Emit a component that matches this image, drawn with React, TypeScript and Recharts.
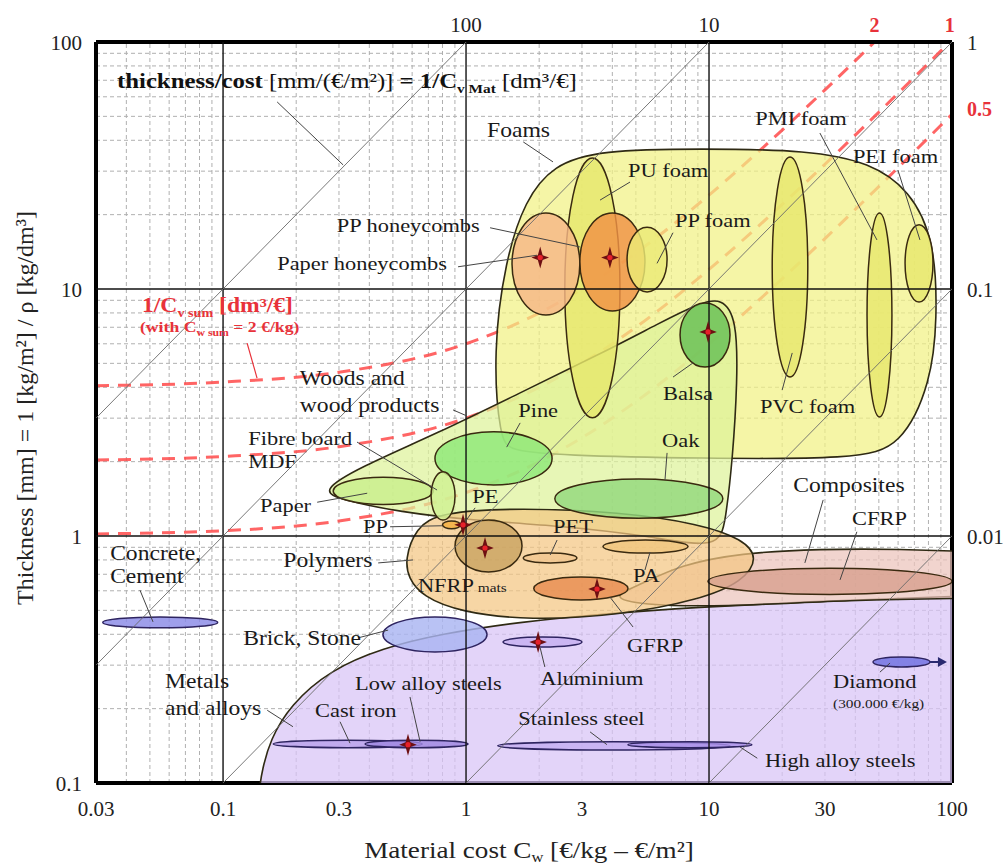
import React from "react"
import { ComposedChart, XAxis, YAxis, Scatter, Line, ReferenceLine } from "recharts"

const SERIF = '"Liberation Serif", "Times New Roman", serif'
const STRETCH = 1.18

// axes
const xTicks = [0.03, 0.1, 0.3, 1, 3, 10, 30, 100]
const yTicks = [0.1, 1, 10, 100]
// thickness/cost scale where the diagonals leave the frame
const topTicks = [1, 10, 48, 98]
const topLabels = ["100", "10", "2", "1"]
const rightTicks = [100, 54, 10, 1]
const rightLabels = ["1", "0.5", "0.1", "0.01"]

// grid
const xMinor = [0.04, 0.05, 0.06, 0.07, 0.08, 0.09, 0.2, 0.3, 0.4, 0.5, 0.6, 0.7, 0.8, 0.9, 2, 3, 4, 5, 6, 7, 8, 9, 20, 30, 40, 50, 60, 70, 80, 90]
const xMajor = [0.1, 1, 10]
const yMinor = [0.2, 0.3, 0.4, 0.5, 0.6, 0.7, 0.8, 0.9, 2, 3, 4, 5, 6, 7, 8, 9, 20, 30, 40, 50, 60, 70, 80, 90]
const yMajor = [1, 10]

// lines of constant thickness/cost
const diagonalStart = [[0.03, 3], [0.03, 0.3], [0.1, 0.1], [1, 0.1], [10, 0.1]]
const diagonalEnd = [[1, 100], [10, 100], [100, 100], [100, 10], [100, 1]]

// 1/Cv sum curves (Cw sum = 2 €/kg)
const sumCurveX = [0.03, 0.1, 0.3, 1, 2, 3, 5, 10, 20, 30, 48, 100]
const sumCurve2 = [4.06, 4.2, 4.6, 6, 8, 10, 14, 24, 44, 64, 100, 204]
const sumCurve1 = [2.03, 2.1, 2.3, 3, 4, 5, 7, 12, 22, 32, 50, 102]
const sumCurve05 = [1.02, 1.05, 1.15, 1.5, 2, 2.5, 3.5, 6, 11, 16, 25, 51]

// material family envelopes (outline points)
const metalsOutline = [[0.14, 0.06], [0.14, 0.08], [0.141, 0.095], [0.145, 0.113], [0.156, 0.149], [0.189, 0.207], [0.276, 0.287], [0.455, 0.352], [0.782, 0.401], [1.67, 0.449], [3.56, 0.483], [9.18, 0.516], [23.7, 0.54], [108, 0.572], [200, 0.58], [200, 0.06], [20, 0.06], [1, 0.06]]
const compositesOutline = [[3.91, 0.566], [5.2, 0.634], [7.6, 0.763], [13.4, 0.853], [28.6, 0.886], [61, 0.886], [130, 0.861], [200, 0.86], [200, 0.56], [130, 0.561], [38, 0.551], [11.1, 0.516], [5.2, 0.526]]
const foamsOutline = [[1.38, 2.45], [1.29, 5.51], [1.45, 13.1], [1.75, 22.9], [2.28, 31.8], [3.56, 36.5], [9.18, 37], [26, 36.5], [46, 32.5], [67, 25.2], [85, 15.8], [87, 7.5], [82, 4.2], [62, 2.3], [40, 2.05], [9.2, 2.06], [2.44, 2.12], [1.52, 2.22]]
const woodsOutline = [[0.25, 1.52], [0.366, 1.9], [0.76, 2.6], [1.67, 3.8], [3.56, 5.45], [6.29, 7.3], [9.18, 8.8], [11.3, 9.2], [13, 7.6], [13.1, 4.28], [12.5, 2.03], [11.7, 1.16], [11, 0.88], [5.72, 1.0], [2.44, 1.1], [1.04, 1.16], [0.535, 1.25], [0.31, 1.4]]
const polymersOutline = [[0.56, 0.8], [0.62, 1.08], [0.782, 1.25], [1.67, 1.3], [4.3, 1.25], [9.18, 1.12], [13.8, 0.97], [16, 0.815], [13.8, 0.655], [9.18, 0.552], [4.3, 0.478], [1.83, 0.455], [0.945, 0.492], [0.66, 0.57], [0.58, 0.676]]

const envelopes = [
  { name: "Metals", points: metalsOutline },
  { name: "Composites", points: compositesOutline },
  { name: "Foams", points: foamsOutline },
  { name: "Woods", points: woodsOutline },
  { name: "Polymers", points: polymersOutline },
]

// individual materials: cost range x, thickness range y
const materials = [
  { name: "Concrete", x: [0.032, 0.095], y: [0.425, 0.47] },
  { name: "Brick", x: [0.455, 1.22], y: [0.339, 0.47] },
  { name: "Cast iron", x: [0.161, 0.66], y: [0.139, 0.149] },
  { name: "Low alloy steels", x: [0.384, 1.02], y: [0.139, 0.149] },
  { name: "Stainless steel", x: [1.35, 12.2], y: [0.136, 0.147] },
  { name: "High alloy steels", x: [4.64, 15], y: [0.139, 0.147] },
  { name: "Aluminium", x: [1.42, 3.0], y: [0.355, 0.39] },
  { name: "Diamond", x: [47.3, 81.2], y: [0.295, 0.324] },
  { name: "CFRP", x: [9.9, 100], y: [0.58, 0.74] },
  { name: "GFRP", x: [1.9, 4.64], y: [0.551, 0.683] },
  { name: "NFRP mats", x: [0.901, 1.7], y: [0.715, 1.16] },
  { name: "PET", x: [1.72, 2.86], y: [0.778, 0.853] },
  { name: "PA", x: [3.66, 8.2], y: [0.853, 0.963] },
  { name: "PP", x: [0.8, 0.95], y: [1.07, 1.15] },
  { name: "Oak", x: [2.32, 11.4], y: [1.18, 1.7] },
  { name: "Paper", x: [0.284, 0.732], y: [1.34, 1.73] },
  { name: "Pine", x: [0.745, 2.26], y: [1.61, 2.64] },
  { name: "Fibre board", x: [0.718, 0.901], y: [1.16, 1.82] },
  { name: "PU foam", x: [2.55, 4.3], y: [3.01, 33.9] },
  { name: "PVC foam", x: [18.2, 25.5], y: [4.4, 34.2] },
  { name: "PMI foam", x: [44.7, 56.6], y: [3.03, 20.3] },
  { name: "PEI foam", x: [64.1, 83.5], y: [8.86, 18.2] },
  { name: "Paper honeycombs", x: [1.546, 2.94], y: [7.85, 20.3] },
  { name: "PP honeycombs", x: [2.94, 5.45], y: [8.15, 20.3] },
  { name: "PP foam", x: [4.6, 6.72], y: [9.73, 17.8] },
  { name: "Balsa", x: [7.6, 12.2], y: [4.83, 8.78] },
]

// reference materials (stars)
const starX = [2.02, 3.91, 9.91, 0.972, 1.197, 3.46, 1.98, 0.577]
const starY = [13.4, 13.4, 6.7, 1.11, 0.894, 0.61, 0.372, 0.143]

const labels = [
  { text: "thickness/cost", x: 0.0366, y: 65.1, kind: "formula" },
  { text: "1/Cv sum", x: 0.0464, y: 8.07, kind: "sumTitle" },
  { text: "(with Cw sum = 2 €/kg)", x: 0.0455, y: 6.7, kind: "sumNote" },
  { text: "Foams", x: 1.22, y: 41.2, kind: "group" },
  { text: "PU foam", x: 4.64, y: 28.4, kind: "item" },
  { text: "PP foam", x: 7.24, y: 17.8, kind: "item" },
  { text: "PP honeycombs", x: 0.294, y: 17.0, kind: "item" },
  { text: "Paper honeycombs", x: 0.167, y: 11.9, kind: "item" },
  { text: "PMI foam", x: 15.5, y: 46.1, kind: "item" },
  { text: "PEI foam", x: 39.1, y: 32.4, kind: "item" },
  { text: "PVC foam", x: 16.2, y: 3.15, kind: "item" },
  { text: "Balsa", x: 6.47, y: 3.55, kind: "item" },
  { text: "Oak", x: 6.41, y: 2.29, kind: "item" },
  { text: "Pine", x: 1.64, y: 3.03, kind: "item" },
  { text: "Woods and", x: 0.207, y: 4.09, kind: "group" },
  { text: "wood products", x: 0.207, y: 3.18, kind: "group" },
  { text: "Fibre board", x: 0.127, y: 2.34, kind: "item" },
  { text: "MDF", x: 0.127, y: 1.885, kind: "item" },
  { text: "Paper", x: 0.142, y: 1.25, kind: "item" },
  { text: "PP", x: 0.377, y: 1.03, kind: "item" },
  { text: "PE", x: 1.06, y: 1.36, kind: "item" },
  { text: "PET", x: 2.28, y: 1.03, kind: "item" },
  { text: "PA", x: 4.87, y: 0.651, kind: "item" },
  { text: "Polymers", x: 0.177, y: 0.749, kind: "group" },
  { text: "NFRP", x: 0.634, y: 0.593, kind: "nfrp" },
  { text: "Composites", x: 22.2, y: 1.51, kind: "group" },
  { text: "CFRP", x: 38.8, y: 1.11, kind: "item" },
  { text: "GFRP", x: 4.6, y: 0.339, kind: "item" },
  { text: "Aluminium", x: 2.02, y: 0.249, kind: "item" },
  { text: "Concrete,", x: 0.0343, y: 0.8, kind: "group" },
  { text: "Cement", x: 0.0343, y: 0.645, kind: "group" },
  { text: "Brick, Stone", x: 0.121, y: 0.362, kind: "group" },
  { text: "Metals", x: 0.0577, y: 0.243, kind: "group" },
  { text: "and alloys", x: 0.0577, y: 0.1885, kind: "group" },
  { text: "Low alloy steels", x: 0.349, y: 0.238, kind: "item" },
  { text: "Cast iron", x: 0.239, y: 0.185, kind: "item" },
  { text: "Stainless steel", x: 1.64, y: 0.172, kind: "item" },
  { text: "High alloy steels", x: 17.0, y: 0.116, kind: "item" },
  { text: "Diamond", x: 32.4, y: 0.243, kind: "item" },
  { text: "(300.000 €/kg)", x: 32.4, y: 0.201, kind: "note" },
]

const leaders = [
  [[0.167, 57.2], [0.312, 31.8]],
  [[1.72, 39.4], [2.28, 32.7]],
  [[4.73, 27.1], [3.56, 22.9]],
  [[7.11, 16.9], [6.11, 12.7]],
  [[1.256, 17.7], [2.94, 14.8]],
  [[0.927, 12.3], [1.96, 13.7]],
  [[28.6, 42.8], [49.1, 15.8]],
  [[59.9, 30.3], [73.8, 15.8]],
  [[20.0, 3.9], [22.0, 5.51]],
  [[7.11, 4.4], [8.59, 5.02]],
  [[6.72, 2.17], [6.59, 1.69]],
  [[1.67, 2.87], [1.47, 2.29]],
  [[0.884, 3.24], [1.01, 3.06]],
  [[0.356, 2.4], [0.76, 1.535]],
  [[0.244, 1.37], [0.392, 1.49]],
  [[0.487, 1.09], [0.796, 1.1]],
  [[1.09, 1.3], [0.99, 1.14]],
  [[2.37, 0.963], [2.22, 0.838]],
  [[5.45, 0.728], [5.72, 0.861]],
  [[0.435, 0.778], [0.605, 0.8]],
  [[29.5, 1.4], [24.8, 0.778]],
  [[40.6, 1.04], [34.6, 0.664]],
  [[4.87, 0.428], [3.91, 0.566]],
  [[2.11, 0.295], [2.02, 0.352]],
  [[0.0455, 0.604], [0.0515, 0.449]],
  [[0.36, 0.387], [0.478, 0.416]],
  [[0.152, 0.197], [0.194, 0.169]],
  [[0.588, 0.223], [0.647, 0.147]],
  [[0.303, 0.177], [0.333, 0.145]],
  [[3.24, 0.161], [3.8, 0.143]],
  [[15.8, 0.126], [13.4, 0.14]],
  [[50.5, 0.281], [55.6, 0.306]],
]
const redLeader = [[0.1256, 6.04], [0.138, 4.36]]
const diamondArrow = [[81.2, 0.309], [95.3, 0.309]]

const ENVELOPE_FILL: Record<string, string> = {
  Metals: "#d8c4f6",
  Composites: "#ebc3bb",
  Foams: "#f1f184",
  Woods: "#def39a",
  Polymers: "#f4c682",
}

const MATERIAL_FILL: Record<string, string> = {
  Concrete: "#8a8ae6",
  Brick: "#aab4f2",
  "Cast iron": "#b9a2ec",
  "Low alloy steels": "#9f88e0",
  "Stainless steel": "#c4aef2",
  "High alloy steels": "#a890e8",
  Aluminium: "#c6b0f0",
  Diamond: "#6e70e0",
  CFRP: "#d8a190",
  GFRP: "#e88c50",
  "NFRP mats": "#c9a461",
  PET: "#f2c790",
  PA: "#f0c67e",
  PP: "#f4ad3c",
  Oak: "#92d87c",
  Paper: "#c9ee8c",
  Pine: "#8ee878",
  "Fibre board": "#d0f092",
  "PU foam": "#e6e86c",
  "PVC foam": "#e8e86e",
  "PMI foam": "#e8e86e",
  "PEI foam": "#e8e86e",
  "Paper honeycombs": "#f6b786",
  "PP honeycombs": "#f09246",
  "PP foam": "#ecea76",
  Balsa: "#66bf55",
}

const PURPLE = new Set(["Concrete", "Brick", "Cast iron", "Low alloy steels", "Stainless steel", "High alloy steels", "Aluminium", "Diamond"])

const toPoints = (pts: number[][]) => pts.map(([x, y]) => ({ x, y }))
const noShape = () => <g />

const ellipseLine = (fill: string, stroke: string) => (p: any) => {
  const pts = p && p.points
  if (!pts || pts.length < 2) return <g />
  const [a, b] = pts
  return (
    <ellipse
      cx={(a.x + b.x) / 2}
      cy={(a.y + b.y) / 2}
      rx={Math.abs(b.x - a.x) / 2}
      ry={Math.abs(b.y - a.y) / 2}
      fill={fill}
      fillOpacity={0.82}
      stroke={stroke}
      strokeWidth={1.5}
    />
  )
}

const arrowLine = (p: any) => {
  const pts = p && p.points
  if (!pts || pts.length < 2) return <g />
  const [a, b] = pts
  return (
    <g>
      <line x1={a.x} y1={a.y} x2={b.x - 6} y2={b.y} stroke="#2a2a70" strokeWidth={2} />
      <path d={`M${b.x},${b.y} L${b.x - 9},${b.y - 5} L${b.x - 9},${b.y + 5} Z`} fill="#2a2a70" />
    </g>
  )
}

const StarShape = (p: any) => {
  const { cx, cy } = p
  if (cx == null || cy == null) return <g />
  const r = 11
  const w = 2.4
  const d = `M${cx},${cy - r} L${cx + w},${cy - w} L${cx + r * 0.8},${cy} L${cx + w},${cy + w} L${cx},${cy + r} L${cx - w},${cy + w} L${cx - r * 0.8},${cy} L${cx - w},${cy - w} Z`
  return (
    <g>
      <path d={d} fill="#6e0f12" />
      <circle cx={cx} cy={cy} r={2.6} fill="#e8202a" />
    </g>
  )
}

const LabelShape = (p: any) => {
  const d = p.payload
  if (!d || p.cx == null) return <g />
  const t = `translate(${p.cx},${p.cy}) scale(${STRETCH},1)`
  const base = { fontFamily: SERIF, style: { whiteSpace: "pre" as const } }
  let content: React.ReactNode
  if (d.kind === "formula") {
    content = (
      <text {...base} fontSize={21} fill="#111">
        <tspan fontWeight="bold">thickness/cost</tspan>
        <tspan> [mm/(€/m²)] </tspan>
        <tspan fontWeight="bold">= 1/C</tspan>
        <tspan fontWeight="bold" fontSize={13} dy={5}>v Mat</tspan>
        <tspan dy={-5}> [dm³/€]</tspan>
      </text>
    )
  } else if (d.kind === "sumTitle") {
    content = (
      <text {...base} fontSize={20} fill="#e8323a" fontWeight="bold">
        1/C<tspan fontSize={12} dy={5}>v sum</tspan>
        <tspan dy={-5}> [dm³/€]</tspan>
      </text>
    )
  } else if (d.kind === "sumNote") {
    content = (
      <text {...base} fontSize={15} fill="#e8323a" fontWeight="bold">
        (with C<tspan fontSize={10} dy={4}>w sum</tspan>
        <tspan dy={-4}> = 2 €/kg)</tspan>
      </text>
    )
  } else if (d.kind === "nfrp") {
    content = (
      <text {...base} fontSize={19} fill="#1a1a1a">
        NFRP<tspan fontSize={13}> mats</tspan>
      </text>
    )
  } else {
    const size = d.kind === "group" ? 20 : d.kind === "note" ? 13 : 19
    content = (
      <text {...base} fontSize={size} fill="#1a1a1a">
        {d.text}
      </text>
    )
  }
  return <g transform={t}>{content}</g>
}

const BottomTick = (p: any) => (
  <text x={p.x} y={p.y + 33} textAnchor="middle" fontFamily={SERIF} fontSize={21} fill="#222">
    {String(p.payload.value)}
  </text>
)
const LeftTick = (p: any) => (
  <text x={p.x - 14} y={p.y + 8} textAnchor="end" fontFamily={SERIF} fontSize={21} fill="#222">
    {String(p.payload.value)}
  </text>
)
const TopTick = (p: any) => {
  const i = topTicks.indexOf(p.payload.value)
  const red = i >= 2
  return (
    <text x={p.x} y={p.y - 10} textAnchor="middle" fontFamily={SERIF} fontSize={red ? 20 : 21} fontWeight={red ? "bold" : "normal"} fill={red ? "#e8323a" : "#222"}>
      {topLabels[i]}
    </text>
  )
}
const RightTick = (p: any) => {
  const i = rightTicks.indexOf(p.payload.value)
  const red = i === 1
  return (
    <text x={p.x + 15} y={p.y + 8} textAnchor="start" fontFamily={SERIF} fontSize={red ? 20 : 21} fontWeight={red ? "bold" : "normal"} fill={red ? "#e8323a" : "#222"}>
      {rightLabels[i]}
    </text>
  )
}
const EmptyTick = () => <g />

const frame = { stroke: "#000", strokeWidth: 4 }
const minorTick = { stroke: "#222", strokeWidth: 1.2 }

// two-point segment drawn through the chart scales
const segment = (key: string, a: number[], b: number[], stroke: string, width: number) => (
  <Scatter
    key={key}
    data={toPoints([a, b])}
    line={{ stroke, strokeWidth: width }}
    lineType="joint"
    shape={noShape}
    isAnimationActive={false}
    legendType="none"
  />
)

export default function App() {
  return (
    <div style={{ position: "absolute", left: 0, top: 0, width: 1008, height: 865, background: "#fff" }}>
      <ComposedChart width={1008} height={865} margin={{ top: 0, right: 0, bottom: 0, left: 0 }}>
        {/* inward minor ticks on the frame */}
        <XAxis xAxisId="minorB" type="number" scale="log" domain={[0.03, 100]} allowDataOverflow ticks={xMinor} interval={0} height={0} mirror axisLine={false} tick={EmptyTick} tickLine={minorTick} tickSize={6} />
        <XAxis xAxisId="minorT" orientation="top" type="number" scale="log" domain={[0.03, 100]} allowDataOverflow ticks={xMinor} interval={0} height={0} mirror axisLine={false} tick={EmptyTick} tickLine={minorTick} tickSize={6} />
        <YAxis yAxisId="minorL" type="number" scale="log" domain={[0.1, 100]} allowDataOverflow ticks={yMinor} interval={0} width={0} mirror axisLine={false} tick={EmptyTick} tickLine={minorTick} tickSize={6} />
        <YAxis yAxisId="minorR" orientation="right" type="number" scale="log" domain={[0.1, 100]} allowDataOverflow ticks={yMinor} interval={0} width={0} mirror axisLine={false} tick={EmptyTick} tickLine={minorTick} tickSize={6} />

        <XAxis xAxisId={0} type="number" dataKey="x" scale="log" domain={[0.03, 100]} allowDataOverflow ticks={xTicks} interval={0} height={82} axisLine={frame} tickLine={false} tickSize={0} tickMargin={0} tick={BottomTick} />
        <XAxis xAxisId="top" orientation="top" type="number" dataKey="x" scale="log" domain={[0.03, 100]} allowDataOverflow ticks={topTicks} interval={0} height={42} axisLine={frame} tickLine={false} tickSize={0} tickMargin={0} tick={TopTick} />
        <YAxis yAxisId={0} type="number" dataKey="y" scale="log" domain={[0.1, 100]} allowDataOverflow ticks={yTicks} interval={0} width={96} axisLine={frame} tickLine={false} tickSize={0} tickMargin={0} tick={LeftTick} />
        <YAxis yAxisId="right" orientation="right" type="number" dataKey="y" scale="log" domain={[0.1, 100]} allowDataOverflow ticks={rightTicks} interval={0} width={56} axisLine={frame} tickLine={false} tickSize={0} tickMargin={0} tick={RightTick} />

        {xMinor.map((v) => (
          <ReferenceLine key={`xm-${v}`} x={v} stroke="#b0b0b0" strokeDasharray="4 3" strokeWidth={1} />
        ))}
        {yMinor.map((v) => (
          <ReferenceLine key={`ym-${v}`} y={v} stroke="#b0b0b0" strokeDasharray="4 3" strokeWidth={1} />
        ))}

        {envelopes.map((e) => (
          <Scatter
            key={e.name}
            data={toPoints(e.points)}
            line={{ fill: ENVELOPE_FILL[e.name], fillOpacity: 0.72, stroke: "#2f2a14", strokeWidth: 1.6 }}
            lineType="joint"
            lineJointType="basisClosed"
            shape={noShape}
            isAnimationActive={false}
            legendType="none"
          />
        ))}

        {materials.map((m) => (
          <Scatter
            key={m.name}
            data={[{ x: m.x[0], y: m.y[0] }, { x: m.x[1], y: m.y[1] }]}
            line={ellipseLine(MATERIAL_FILL[m.name], PURPLE.has(m.name) ? "#2e2460" : "#3a2a10")}
            lineType="joint"
            shape={noShape}
            isAnimationActive={false}
            legendType="none"
          />
        ))}

        {xMajor.map((v) => segment(`xM-${v}`, [v, 0.1], [v, 100], "#111", 1.4))}
        {yMajor.map((v) => segment(`yM-${v}`, [0.03, v], [100, v], "#111", 1.4))}
        {diagonalStart.map((s, i) => segment(`diag-${i}`, s, diagonalEnd[i], "#6a6a6a", 0.9))}

        <Scatter data={toPoints(diamondArrow)} line={arrowLine} lineType="joint" shape={noShape} isAnimationActive={false} legendType="none" />

        {[sumCurve2, sumCurve1, sumCurve05].map((c, i) => (
          <Line
            key={`sum-${i}`}
            data={sumCurveX.map((x, j) => ({ x, y: c[j] }))}
            dataKey="y"
            type="monotone"
            stroke="#ff4a4a"
            strokeOpacity={0.85}
            strokeWidth={3}
            strokeDasharray="13 9"
            dot={false}
            activeDot={false}
            isAnimationActive={false}
            legendType="none"
          />
        ))}

        {leaders.map((l, i) => segment(`lead-${i}`, l[0], l[1], "#444", 1))}
        {segment("red-lead", redLeader[0], redLeader[1], "#e8323a", 1.2)}

        <Scatter data={starX.map((x, i) => ({ x, y: starY[i] }))} shape={StarShape} isAnimationActive={false} legendType="none" />
        <Scatter data={labels} shape={LabelShape} isAnimationActive={false} legendType="none" />
      </ComposedChart>

      <svg width={1008} height={865} style={{ position: "absolute", left: 0, top: 0, pointerEvents: "none" }}>
        <g transform={`translate(529,858) scale(${STRETCH},1)`}>
          <text textAnchor="middle" fontFamily={SERIF} fontSize={23} fill="#222" style={{ whiteSpace: "pre" }}>
            Material cost C<tspan fontSize={14} dy={4}>w</tspan>
            <tspan dy={-4}> [€/kg – €/m²]</tspan>
          </text>
        </g>
        <g transform="translate(33,408) rotate(-90)">
          <text textAnchor="middle" fontFamily={SERIF} fontSize={24} fill="#222">
            Thickness [mm] = 1 [kg/m²] / ρ [kg/dm³]
          </text>
        </g>
      </svg>
    </div>
  )
}
